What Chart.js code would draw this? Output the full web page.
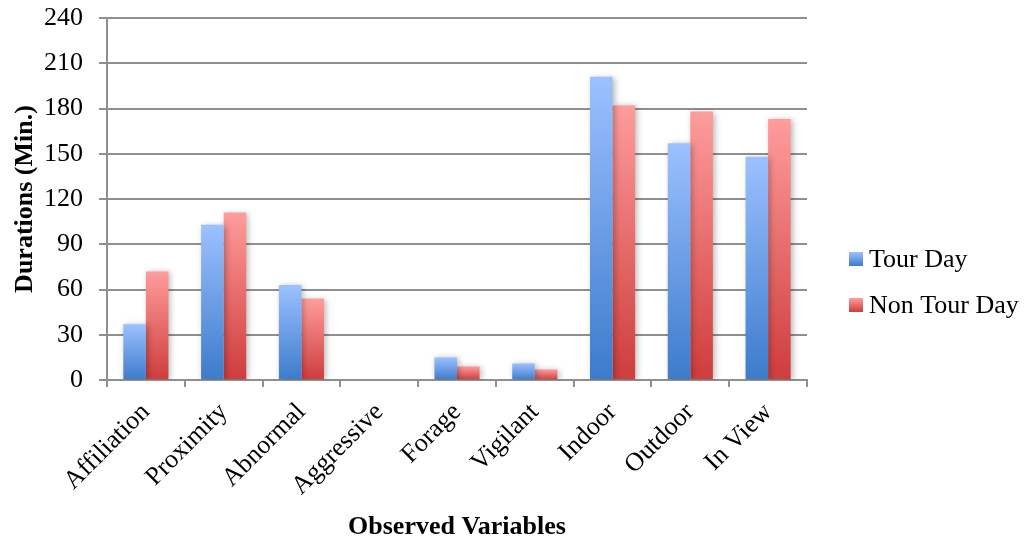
<!DOCTYPE html>
<html>
<head>
<meta charset="utf-8">
<title>Durations by Observed Variable</title>
<script src="https://cdn.jsdelivr.net/npm/chart.js@4/dist/chart.umd.min.js"></script>
<style>
  html, body { margin: 0; padding: 0; background: #ffffff; }
  #wrap { width: 1029px; height: 544px; }
</style>
</head>
<body>
<div id="wrap"><canvas id="chart" width="1029" height="544"></canvas></div>
<script>
// Categories and series (minutes)
const categories = ['Affiliation', 'Proximity', 'Abnormal', 'Aggressive', 'Forage', 'Vigilant', 'Indoor', 'Outdoor', 'In View'];
const tourDay    = [37, 103, 63, 0.5, 15, 11, 201, 157, 148];
const nonTourDay = [72, 111, 54, 0, 9, 7, 182, 178, 173];
const seriesNames = ['Tour Day', 'Non Tour Day'];
const yTicks = [0, 30, 60, 90, 120, 150, 180, 210, 240];

const SERIF = '"Liberation Serif", "Times New Roman", Times, serif';
const GRID = '#8f8f8f';
const BLUE = { top: '#9cc1ff', bottom: '#3c7bcc' };
const RED  = { top: '#ff9c9c', bottom: '#cf3c3c' };

// Vertical gradient running from the top of each bar down to the zero line
function barGradient(context, colors) {
  const chart = context.chart;
  if (!chart.chartArea || context.type !== 'data') return colors.bottom;
  const y = chart.scales.y;
  const v = context.raw;
  const yTop = y.getPixelForValue(v);
  const yBase = y.getPixelForValue(0);
  if (!(yBase - yTop > 0.5)) return colors.bottom;
  const g = chart.ctx.createLinearGradient(0, yTop, 0, yBase);
  g.addColorStop(0, colors.top);
  g.addColorStop(1, colors.bottom);
  return g;
}

// Soft drop shadow behind the bars
const barShadow = {
  id: 'barShadow',
  beforeDatasetsDraw(chart) {
    const c = chart.ctx;
    c.save();
    c.shadowColor = 'rgba(0,0,0,0.28)';
    c.shadowBlur = 6;
    c.shadowOffsetX = 2;
    c.shadowOffsetY = 1;
  },
  afterDatasetsDraw(chart) {
    chart.ctx.restore();
  }
};

// Legend on the right with gradient swatches
const sideLegend = {
  id: 'sideLegend',
  afterDraw(chart) {
    const c = chart.ctx;
    const swatches = [BLUE, RED];
    const baselines = [267, 313];
    c.save();
    c.font = '26px ' + SERIF;
    c.fillStyle = '#000';
    c.textBaseline = 'alphabetic';
    c.textAlign = 'left';
    chart.data.datasets.forEach((ds, i) => {
      const b = baselines[i];
      const g = c.createLinearGradient(0, b - 15, 0, b - 1);
      g.addColorStop(0, swatches[i].top);
      g.addColorStop(1, swatches[i].bottom);
      c.fillStyle = g;
      c.fillRect(849, b - 15, 14, 14);
      c.fillStyle = '#000';
      c.fillText(ds.label, 869, b);
    });
    c.restore();
  }
};

new Chart(document.getElementById('chart'), {
  type: 'bar',
  data: {
    labels: categories,
    datasets: [
      {
        label: seriesNames[0],
        data: tourDay,
        backgroundColor: ctx => barGradient(ctx, BLUE),
        borderWidth: 0,
        categoryPercentage: 0.58,
        barPercentage: 1.0
      },
      {
        label: seriesNames[1],
        data: nonTourDay,
        backgroundColor: ctx => barGradient(ctx, RED),
        borderWidth: 0,
        categoryPercentage: 0.58,
        barPercentage: 1.0
      }
    ]
  },
  options: {
    responsive: false,
    animation: false,
    layout: { padding: { top: 18, right: 222, bottom: 0, left: 0 } },
    plugins: {
      legend: { display: false },
      tooltip: { enabled: false }
    },
    scales: {
      x: {
        grid: {
          display: true,
          drawOnChartArea: false,
          drawTicks: true,
          tickLength: 7,
          color: GRID,
          lineWidth: 2,
          offset: true
        },
        border: { display: true, color: GRID, width: 2 },
        ticks: {
          color: '#000',
          font: { family: SERIF, size: 26 },
          minRotation: 45,
          maxRotation: 45,
          padding: 10,
          autoSkip: false
        },
        title: {
          display: true,
          text: 'Observed Variables',
          color: '#000',
          font: { family: SERIF, size: 26, weight: 'bold' },
          padding: { top: 0, bottom: 1 }
        },
        afterFit(scale) {
          scale.height = 164;
          scale.paddingLeft = 0;
          scale.paddingRight = 0;
        }
      },
      y: {
        min: 0,
        max: 240,
        afterBuildTicks(scale) { scale.ticks = yTicks.map(v => ({ value: v })); },
        grid: {
          color: GRID,
          lineWidth: 2,
          drawTicks: true,
          tickLength: 8
        },
        border: { display: true, color: GRID, width: 2 },
        ticks: {
          color: '#000',
          font: { family: SERIF, size: 26 },
          padding: 16
        },
        title: {
          display: true,
          text: 'Durations (Min.)',
          color: '#000',
          font: { family: SERIF, size: 26, weight: 'bold' },
          padding: { top: 10, bottom: 0 }
        },
        afterFit(scale) {
          scale.width = 107;
          scale.paddingTop = 0;
          scale.paddingBottom = 0;
        }
      }
    }
  },
  plugins: [barShadow, sideLegend]
});
</script>
</body>
</html>
